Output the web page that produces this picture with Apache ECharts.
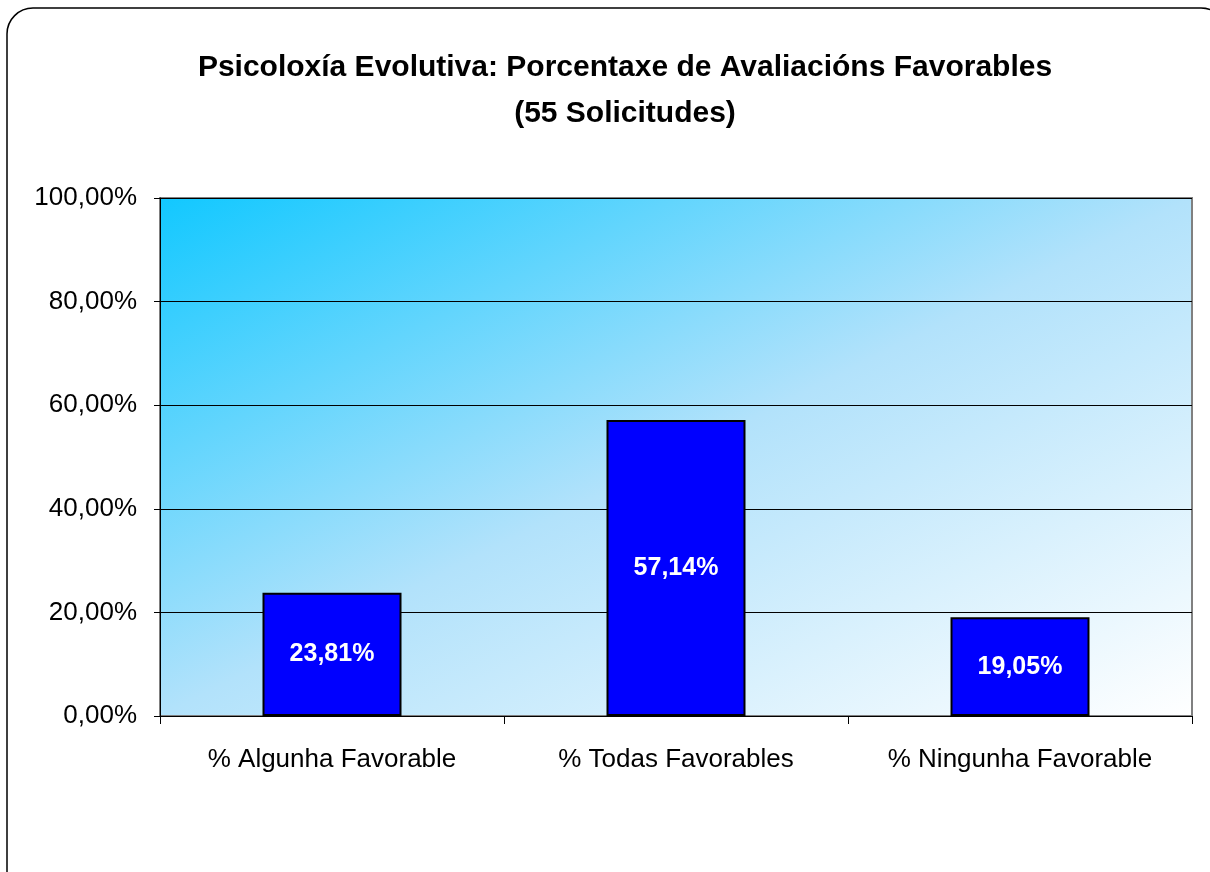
<!DOCTYPE html>
<html>
<head>
<meta charset="utf-8">
<script src="https://cdn.jsdelivr.net/npm/echarts@6/dist/echarts.min.js"></script>
<style>
  html, body { margin: 0; padding: 0; background: #fff; }
  #chart { width: 1210px; height: 872px; }
</style>
</head>
<body>
<div id="chart"></div>
<script>
const categories = ['% Algunha Favorable', '% Todas Favorables', '% Ningunha Favorable'];
const values = [23.81, 57.14, 19.05];
const titleLines = ['Psicoloxía Evolutiva: Porcentaxe de Avaliacións Favorables', '(55 Solicitudes)'];

const fmt = v => v.toFixed(2).replace('.', ',') + '%';

const chart = echarts.init(document.getElementById('chart'));

// degradado diagonal do fondo (coordenadas globais do grid)
const bg = new echarts.graphic.LinearGradient(160, 198, 575, 1026, [
  { offset: 0, color: '#12c8ff' },
  { offset: 0.5, color: '#b2e2fb' },
  { offset: 1, color: '#ffffff' }
], true);

chart.setOption({
  animation: false,
  backgroundColor: '#fff',
  textStyle: { fontFamily: 'Liberation Sans, Arial, sans-serif' },
  graphic: [{
    type: 'rect',
    z: -10,
    shape: { x: 7, y: 8, width: 1220, height: 890, r: 26 },
    style: { fill: 'none', stroke: '#000', lineWidth: 1.5 }
  }],
  title: {
    text: titleLines.join('\n'),
    left: 620,
    textAlign: 'center',
    top: 40,
    textStyle: { fontSize: 30, fontWeight: 'bold', color: '#000', lineHeight: 46 }
  },
  grid: {
    left: 160, right: 18, top: 198, bottom: 156,
    show: true,
    borderColor: '#808080',
    borderWidth: 2,
    backgroundColor: bg
  },
  xAxis: {
    type: 'category',
    data: categories,
    axisLine: { lineStyle: { color: '#000', width: 1 } },
    axisTick: { show: true, length: 8, lineStyle: { color: '#000' } },
    axisLabel: { color: '#000', fontSize: 26, margin: 31 }
  },
  yAxis: {
    type: 'value',
    min: 0, max: 100, interval: 20,
    axisLine: { show: true, lineStyle: { color: '#000', width: 1 } },
    axisTick: { show: true, length: 6, lineStyle: { color: '#000' } },
    axisLabel: { color: '#000', fontSize: 26, margin: 23, formatter: v => fmt(v) },
    splitLine: { lineStyle: { color: '#000', width: 1 } }
  },
  series: [{
    type: 'bar',
    data: values,
    barWidth: 139,
    itemStyle: { color: '#0000ff', borderColor: '#000', borderWidth: 2 },
    label: {
      show: true,
      position: 'inside',
      color: '#fff',
      fontSize: 25,
      fontWeight: 'bold',
      formatter: p => fmt(p.value)
    }
  }]
});
</script>
</body>
</html>
